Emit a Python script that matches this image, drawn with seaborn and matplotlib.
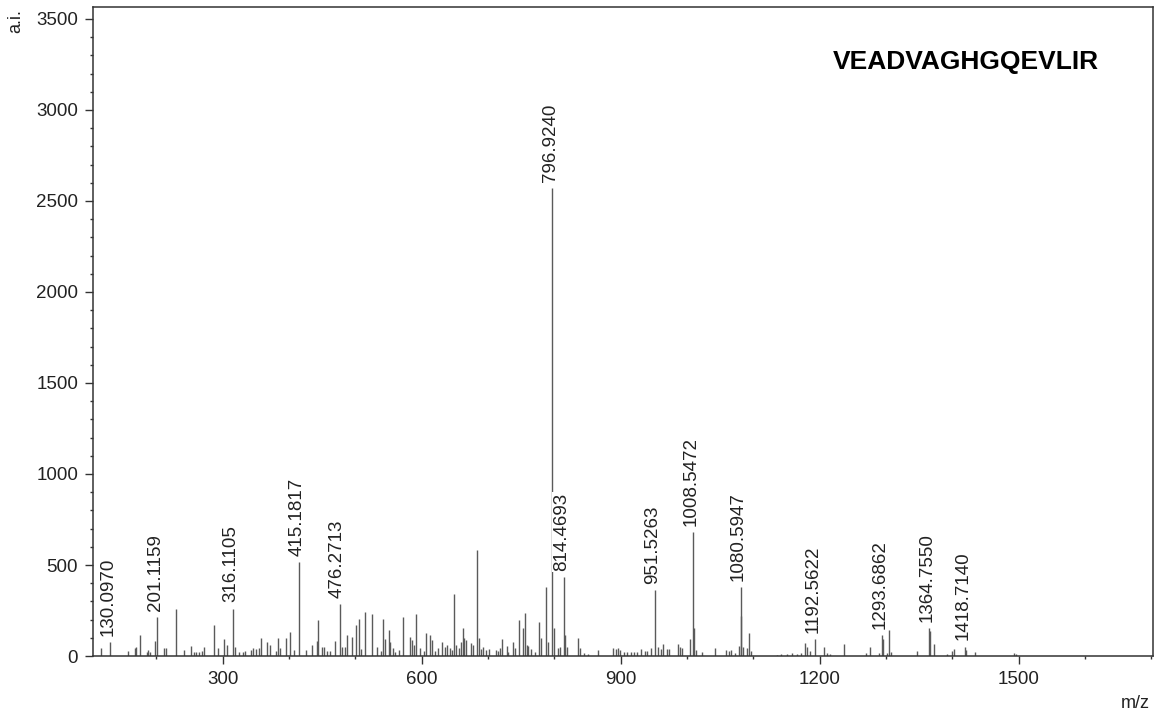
import pandas as pd
import seaborn as sns
import matplotlib.pyplot as plt
from matplotlib.ticker import MultipleLocator

# annotated peaks
label_mz = [130.0970, 201.1159, 316.1105, 415.1817, 476.2713, 796.9240, 814.4693,
            951.5263, 1008.5472, 1080.5947, 1192.5622, 1293.6862, 1364.7550, 1418.7140]
label_int = [75, 212, 260, 514, 284, 2570, 435, 362, 682, 378, 91, 115, 155, 51]

# other (unlabelled) peaks
peak_mz = [116, 157, 167, 169, 175, 186, 188, 190, 198, 211, 214, 230, 242, 252, 256,
           260, 264, 268, 272, 287, 293, 302, 306, 318, 324, 330, 334, 342, 346, 350,
           354, 358, 366, 371, 380, 384, 386, 396, 401, 408, 425, 435, 442, 444, 449,
           453, 457, 462, 469, 480, 484, 487, 495, 501, 506, 508, 515, 525, 532, 538,
           542, 544, 550, 552, 556, 560, 565, 572, 582, 585, 588, 591, 597, 603, 607,
           612, 615, 620, 625, 630, 635, 638, 642, 645, 648, 652, 656, 659, 662, 664,
           666, 674, 677, 683, 686, 689, 693, 697, 702, 712, 715, 718, 721, 728, 730,
           737, 740, 747, 752, 756, 758, 760, 765, 770, 777, 780, 787, 790, 800, 806,
           808, 816, 819, 835, 838, 845, 850, 866, 888, 893, 896, 899, 905, 910, 915,
           920, 925, 930, 936, 940, 946, 956, 960, 964, 969, 972, 986, 990, 993, 1005,
           1011, 1014, 1022, 1042, 1058, 1063, 1066, 1072, 1078, 1082, 1085, 1090, 1094,
           1097, 1135, 1142, 1150, 1158, 1165, 1172, 1178, 1181, 1186, 1206, 1211, 1216,
           1236, 1269, 1276, 1290, 1296, 1301, 1305, 1308, 1346, 1366.5, 1372, 1392,
           1399, 1402, 1421, 1434, 1493, 1496]
peak_int = [42, 27, 42, 51, 115, 24, 33, 20, 82, 42, 42, 260, 33, 57, 24,
            22, 24, 26, 51, 170, 42, 91, 60, 51, 24, 22, 26, 33, 42, 38,
            42, 100, 75, 60, 30, 100, 42, 100, 133, 33, 33, 60, 84, 197, 51,
            51, 30, 30, 84, 51, 51, 115, 106, 170, 203, 37, 243, 229, 51, 30,
            203, 91, 143, 75, 42, 24, 33, 212, 106, 88, 60, 229, 42, 30, 124,
            115, 88, 30, 42, 75, 51, 60, 45, 33, 340, 60, 42, 75, 155, 97,
            88, 70, 60, 581, 97, 40, 51, 33, 37, 33, 30, 42, 91, 57, 24,
            75, 42, 197, 155, 234, 60, 57, 37, 20, 188, 97, 380, 75, 155, 42,
            51, 115, 51, 100, 42, 15, 12, 33, 42, 38, 42, 33, 24, 22, 24,
            20, 24, 37, 29, 26, 42, 48, 37, 64, 37, 37, 66, 51, 42, 91,
            152, 33, 24, 42, 33, 30, 33, 18, 55, 219, 51, 42, 124,
            29, 8, 10, 12, 15, 12, 18, 70, 51, 29, 51, 18, 11,
            66, 18, 51, 18, 91, 18, 143, 24, 29, 140, 66, 11,
            29, 37, 33, 24, 15, 11]

sequence = "VEADVAGHGQEVLIR"

peaks = pd.DataFrame({"mz": peak_mz + label_mz, "intensity": peak_int + label_int})

sns.set_theme(style="ticks")
plt.rcParams['font.family'] = ['Liberation Sans', 'DejaVu Sans']

fig = plt.figure(figsize=(11.59, 7.13), dpi=100)
ax = fig.add_axes([0.08, 0.0799, 0.9146, 0.9107])

ax.vlines(peaks["mz"], 0, peaks["intensity"], color="#5a5a5a", linewidth=1.0)

for mz, inten in zip(label_mz, label_int):
    ax.annotate(f"{mz:.4f}", (mz, inten), xytext=(-1.5, 4.5), textcoords="offset points",
                rotation=90, ha="center", va="bottom", fontsize=13.5, color="#222222",
                bbox=dict(boxstyle="square,pad=0.05", fc="white", ec="none"))

ax.set_xlim(104, 1702)
ax.set_ylim(0, 3567)
ax.xaxis.set_major_locator(MultipleLocator(300))
ax.xaxis.set_minor_locator(MultipleLocator(100))
ax.yaxis.set_major_locator(MultipleLocator(500))
ax.yaxis.set_minor_locator(MultipleLocator(100))
ax.tick_params(which="major", length=5.5, width=1, color="#333333", labelsize=13.5,
               labelcolor="#222222", pad=5)
ax.tick_params(which="minor", length=2.5, width=1, color="#333333")
for sp in ax.spines.values():
    sp.set_linewidth(1.1)
    sp.set_color("#333333")

fig.text(0.014, 0.9705, "a.i.", rotation=90, ha="center", va="center", fontsize=13, color="#222222")
fig.text(0.9795, 0.014, "m/z", ha="center", va="center", fontsize=13, color="#222222")
fig.text(0.8335, 0.913, sequence, ha="center", va="center", fontsize=19, fontweight="bold", color="black")

fig.savefig("out.png", dpi=100)
